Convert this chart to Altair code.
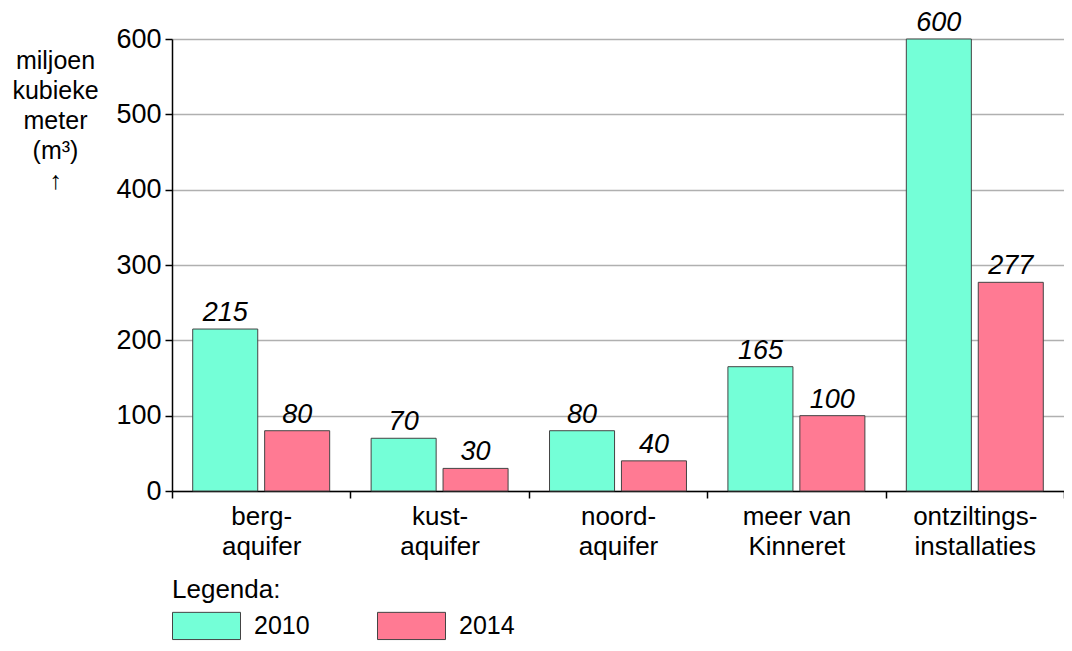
import altair as alt
import pandas as pd

categories = ["berg-\naquifer", "kust-\naquifer", "noord-\naquifer", "meer van\nKinneret", "ontziltings-\ninstallaties"]
years = ["2010", "2014"]
values_2010 = [215, 70, 80, 165, 600]
values_2014 = [80, 30, 40, 100, 277]
y_ticks = [0, 100, 200, 300, 400, 500, 600]
colors = ["#74FFD7", "#FF7A93"]

rows = []
for c, a, b in zip(categories, values_2010, values_2014):
    rows.append({"cat": c, "year": "2010", "value": a})
    rows.append({"cat": c, "year": "2014", "value": b})
df = pd.DataFrame(rows)

FONT = "Liberation Sans"

x = alt.X("cat:N", sort=categories, scale=alt.Scale(paddingInner=0, paddingOuter=0),
          axis=alt.Axis(title=None, labelExpr="split(datum.label, '\\n')", labelFontSize=26,
                        labelColor="black", labelFont=FONT, labelLineHeight=30, labelAngle=0,
                        tickBand="extent", tickSize=7, tickColor="black", tickWidth=1.5,
                        domainColor="black", domainWidth=1.5, labelPadding=5, grid=False))
xoff = alt.XOffset("year:N", scale=alt.Scale(paddingInner=0.096, paddingOuter=0.288))
y = alt.Y("value:Q", scale=alt.Scale(domain=[0, 600], nice=False),
          axis=alt.Axis(values=y_ticks, title=["miljoen", "kubieke", "meter", "(m³)", "↑"],
                        titleAngle=0, titleAlign="center", titleBaseline="top",
                        titleX=-117, titleY=9, titleFontSize=25, titleFontWeight="normal",
                        titleFont=FONT, titleColor="black", titleLineHeight=30,
                        labelFontSize=27, labelFont=FONT, labelColor="black", labelPadding=4,
                        tickSize=7, tickColor="black", tickWidth=1.5, domainColor="black",
                        domainWidth=1.5, gridColor="#b0b0b0", gridWidth=1.5))

bars = alt.Chart(df).mark_bar(stroke="#444444", strokeWidth=1).encode(
    x=x, xOffset=xoff, y=y,
    color=alt.Color("year:N", scale=alt.Scale(domain=years, range=colors),
                    legend=alt.Legend(title="Legenda:", orient="none", legendX=0, legendY=538,
                                      direction="horizontal",
                                      symbolType="M-1,-0.8H3V0.8H-1Z", symbolSize=1156,
                                      symbolStrokeColor="#444444", symbolStrokeWidth=1,
                                      symbolOpacity=1, labelFontSize=25, labelFont=FONT,
                                      labelColor="black", labelOffset=47, columnPadding=65,
                                      titleFontSize=26, titleFont=FONT, titleFontWeight="normal",
                                      titleColor="black", titlePadding=5)),
)
labels = alt.Chart(df).mark_text(fontSize=27, fontStyle="italic", font=FONT, color="black",
                                 baseline="bottom", dy=-2).encode(
    x=x, xOffset=xoff, y=y, text="value:Q")

chart = (bars + labels).properties(
    width=892, height=452,
    padding={"left": 164, "top": 31, "right": 0, "bottom": 150},
    autosize=alt.AutoSizeParams(type="none"),
).configure_view(stroke=None)

chart.save("out.html", embed_options={"renderer": "svg", "actions": False})
